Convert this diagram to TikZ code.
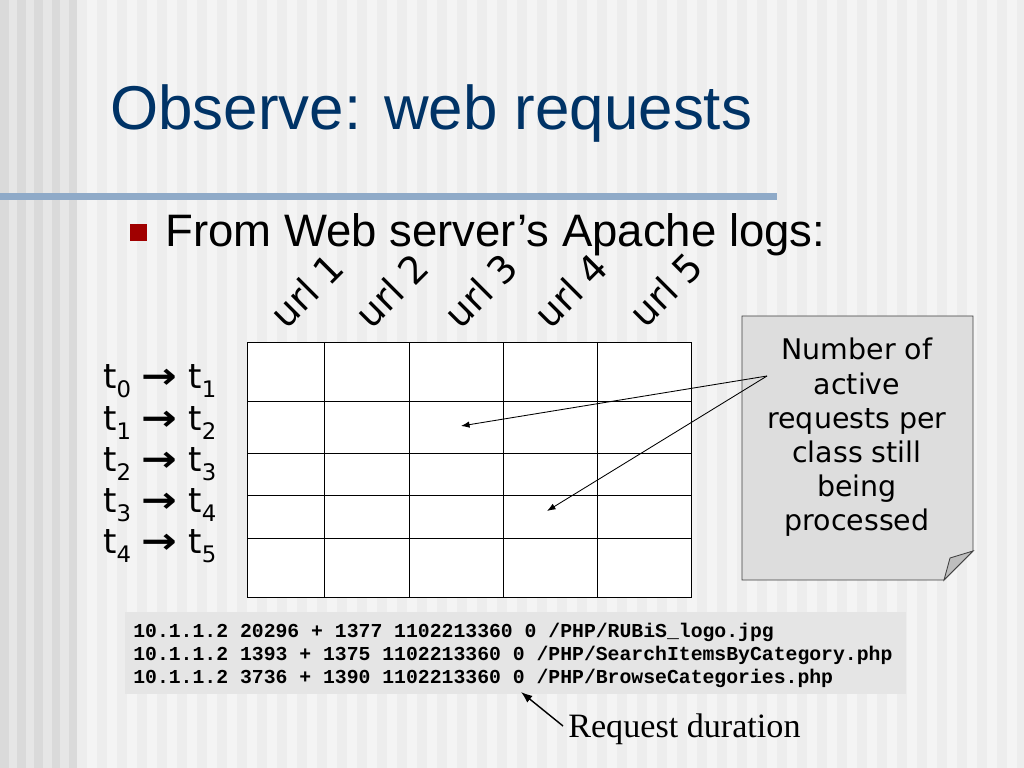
\documentclass[tikz,border=0pt]{standalone}
\usepackage{graphicx}
\usepackage{fontspec}
\setmainfont{Liberation Sans}
\newfontfamily\verd{DejaVu Sans}
\newfontfamily\mono{Liberation Mono}
\newfontfamily\tnr{Liberation Serif}
\usetikzlibrary{arrows.meta}
\definecolor{titleblue}{RGB}{0,51,102}
\definecolor{rulecol}{RGB}{143,170,200}
\definecolor{bulletred}{RGB}{160,0,0}
\definecolor{bgbase}{RGB}{244,244,244}
\definecolor{bgstripe}{RGB}{237,237,237}
\definecolor{leftbase}{RGB}{230,230,230}
\definecolor{leftstripe}{RGB}{218,218,218}
\definecolor{notefill}{RGB}{221,221,221}
\definecolor{foldfill}{RGB}{190,190,190}
\definecolor{logbg}{RGB}{229,229,229}
\tikzset{
  gridcell/.style={draw=black, line width=0.7pt, fill=white},
  rowlabel/.style={anchor=base west, inner sep=0pt, font=\verd\fontsize{24}{28}\selectfont},
  urllabel/.style={anchor=base west, inner sep=0pt, rotate=45, font=\verd\fontsize{26.5}{30}\selectfont},
  notetext/.style={anchor=north, inner sep=0pt, align=center, font=\verd\fontsize{20}{24}\selectfont},
  pointer/.style={draw=black, line width=0.6pt, -{Latex[length=6pt,width=4.5pt]}},
  logline/.style={anchor=base west, inner sep=0pt, font=\mono\bfseries\fontsize{13.9}{16}\selectfont},
}
\newcommand{\tarrow}{\scalebox{1.25}[1.05]{\bfseries →}}
\newcommand{\tsub}[1]{\raisebox{-0.28em}{\fontsize{16}{20}\selectfont #1}}
\begin{document}
\begin{tikzpicture}[x=0.703125pt,y=-0.703125pt]
\useasboundingbox (0,0) rectangle (1024,768);
% background
\fill[bgbase] (0,0) rectangle (1024,768);
\foreach \i in {0,...,47} \fill[bgstripe] ({77+\i*20},0) rectangle ({87+\i*20},768);
\fill[leftbase] (0,0) rectangle (77,768);
\foreach \i in {0,...,4} \fill[leftstripe] ({\i*17.2},0) rectangle ({\i*17.2+8.6},768);
% title
\node[anchor=base west, inner sep=0pt, text=titleblue, font=\fontsize{43.5}{52}\selectfont] (title) at (110,130) {Observe: web requests};
\fill[rulecol] (0,193) rectangle (777,200);
% bullet
\node[fill=bulletred, minimum size=12pt, inner sep=0pt] (bullet) at (138.5,232.5) {};
\node[anchor=base west, inner sep=0pt, font=\fontsize{32}{38}\selectfont] (bullettext) at (165,247) {From Web server’s Apache logs:};
% grid
\foreach \xa/\xb in {247/324,324/409,409/503,503/597,597/691}
  \foreach \ya/\yb in {342/401,401/453,453/495,495/538,538/597}
    \draw[gridcell] (\xa,\ya) rectangle (\xb,\yb);
% url labels
\node[urllabel] (u1) at (286,331) {url 1};
\node[urllabel] (u2) at (371,331) {url 2};
\node[urllabel] (u3) at (460,331) {url 3};
\node[urllabel] (u4) at (550,331) {url 4};
\node[urllabel] (u5) at (645,330) {url 5};
% row labels
\node[rowlabel] (r0) at (103,388) {t\tsub{0} \tarrow{} t\tsub{1}};
\node[rowlabel] (r1) at (103,430) {t\tsub{1} \tarrow{} t\tsub{2}};
\node[rowlabel] (r2) at (103,471) {t\tsub{2} \tarrow{} t\tsub{3}};
\node[rowlabel] (r3) at (103,512) {t\tsub{3} \tarrow{} t\tsub{4}};
\node[rowlabel] (r4) at (103,553) {t\tsub{4} \tarrow{} t\tsub{5}};
% callout
\filldraw[fill=notefill, draw=black!75, line width=0.6pt] (742,316) -- (973,316) -- (973,551) -- (944,580) -- (742,580) -- cycle;
\filldraw[fill=foldfill, draw=black!75, line width=0.6pt] (973,551) -- (950,558) -- (944,580) -- cycle;
\node[notetext] (note) at (857,338) {Number of\\active\\requests per\\class still\\being\\processed};
\coordinate (src) at (767,376);
\coordinate (cellA) at (461,426);
\coordinate (cellB) at (547,511);
\draw[pointer] (src) -- (cellA);
\draw[pointer] (src) -- (cellB);
% log
\fill[logbg] (125,612) rectangle (906,694);
\node[logline] (l1) at (133,637) {10.1.1.2 20296 + 1377 1102213360 0 /PHP/RUBiS\_logo.jpg};
\node[logline] (l2) at (133,660) {10.1.1.2 1393 + 1375 1102213360 0 /PHP/SearchItemsByCategory.php};
\node[logline] (l3) at (133,683) {10.1.1.2 3736 + 1390 1102213360 0 /PHP/BrowseCategories.php};
\node[anchor=base west, inner sep=0pt, font=\tnr\fontsize{24}{28}\selectfont] (rd) at (568,737) {Request duration};
\coordinate (rdstart) at (563,726);
\coordinate (zero) at (521,692);
\draw[draw=black, line width=1pt, -{Latex[length=8pt,width=6pt]}] (rdstart) -- (zero);
\end{tikzpicture}
\end{document}
